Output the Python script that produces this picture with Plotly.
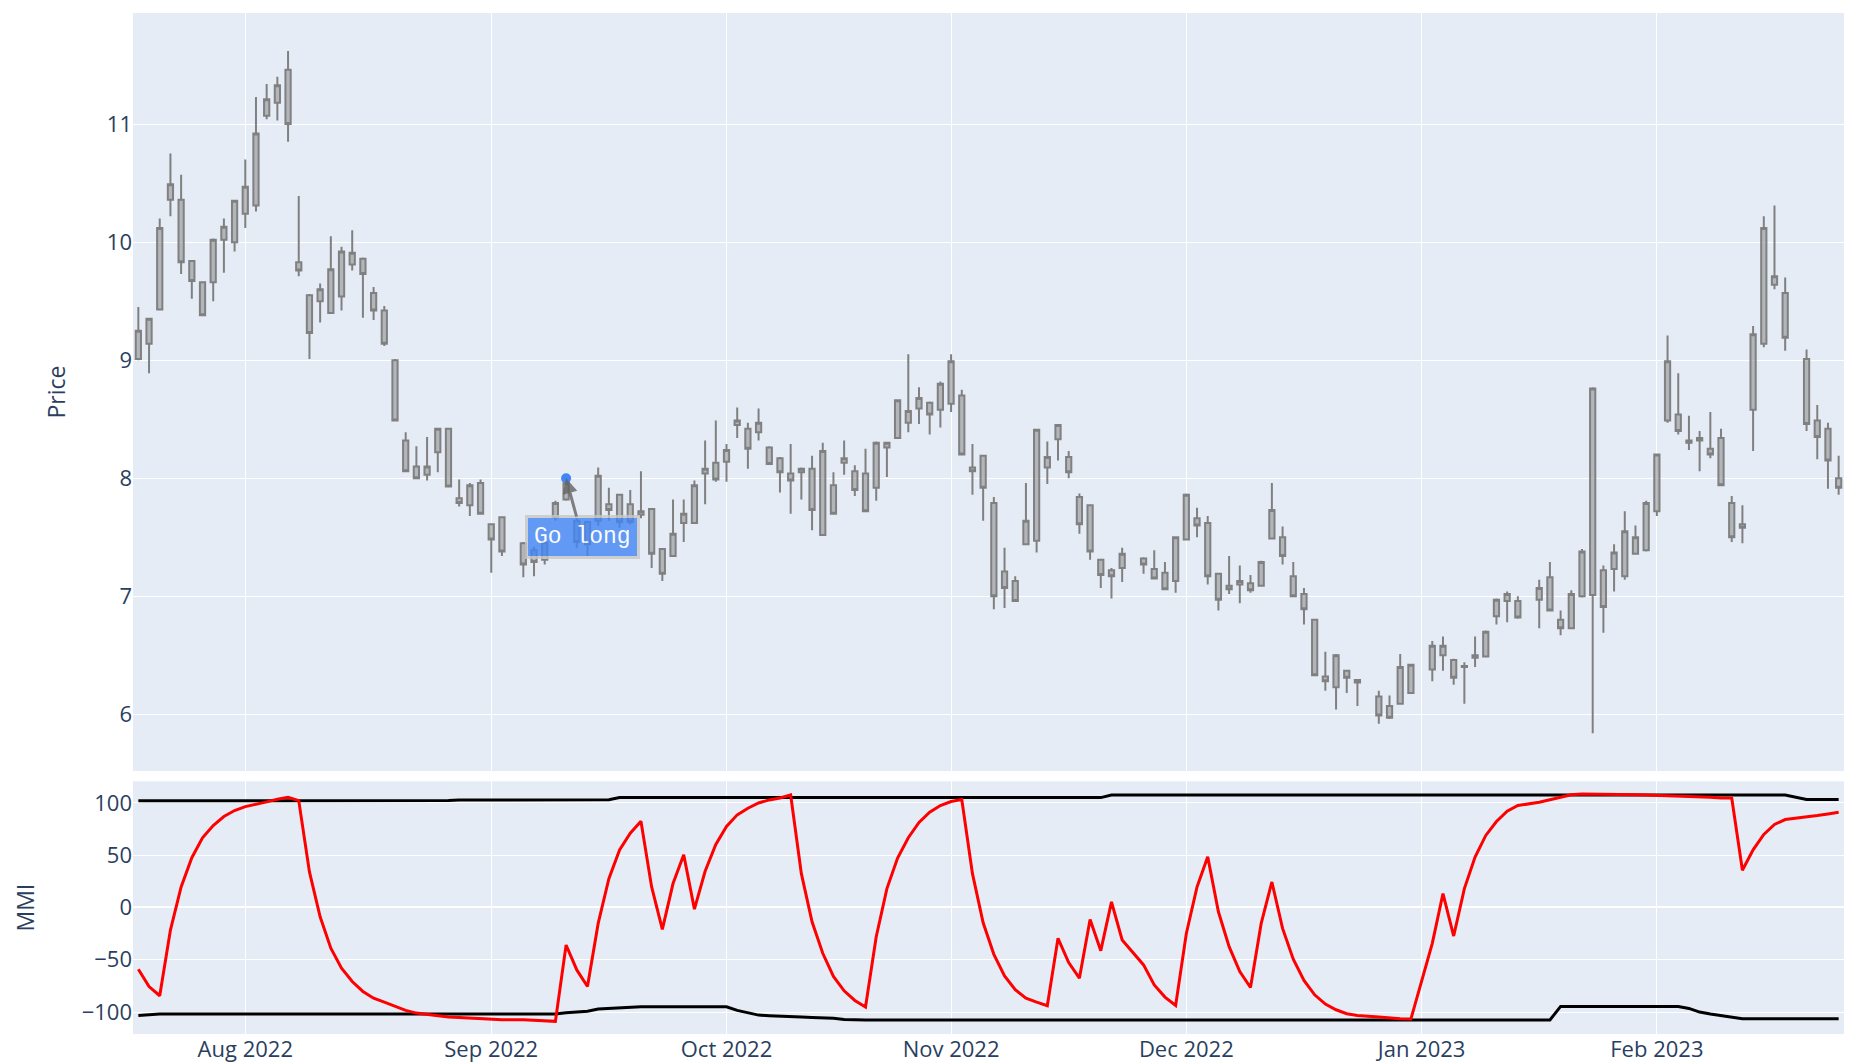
import plotly.graph_objects as go
from plotly.subplots import make_subplots

dates = [
    "2022-07-18", "2022-07-19", "2022-07-20", "2022-07-21", "2022-07-22",
    "2022-07-25", "2022-07-26", "2022-07-27", "2022-07-28", "2022-07-29",
    "2022-08-01", "2022-08-02", "2022-08-03", "2022-08-04", "2022-08-05",
    "2022-08-08", "2022-08-09", "2022-08-10", "2022-08-11", "2022-08-12",
    "2022-08-15", "2022-08-16", "2022-08-17", "2022-08-18", "2022-08-19",
    "2022-08-22", "2022-08-23", "2022-08-24", "2022-08-25", "2022-08-26",
    "2022-08-29", "2022-08-30", "2022-08-31",
    "2022-09-01", "2022-09-02", "2022-09-06", "2022-09-07", "2022-09-08", "2022-09-09",
    "2022-09-12", "2022-09-13", "2022-09-14", "2022-09-15", "2022-09-16",
    "2022-09-19", "2022-09-20", "2022-09-21", "2022-09-22", "2022-09-23",
    "2022-09-26", "2022-09-27", "2022-09-28", "2022-09-29", "2022-09-30",
    "2022-10-03", "2022-10-04", "2022-10-05", "2022-10-06", "2022-10-07",
    "2022-10-10", "2022-10-11", "2022-10-12", "2022-10-13", "2022-10-14",
    "2022-10-17", "2022-10-18", "2022-10-19", "2022-10-20", "2022-10-21",
    "2022-10-24", "2022-10-25", "2022-10-26", "2022-10-27", "2022-10-28",
    "2022-10-31",
    "2022-11-01", "2022-11-02", "2022-11-03", "2022-11-04",
    "2022-11-07", "2022-11-08", "2022-11-09", "2022-11-10", "2022-11-11",
    "2022-11-14", "2022-11-15", "2022-11-16", "2022-11-17", "2022-11-18",
    "2022-11-21", "2022-11-22", "2022-11-23", "2022-11-25",
    "2022-11-28", "2022-11-29", "2022-11-30",
    "2022-12-01", "2022-12-02",
    "2022-12-05", "2022-12-06", "2022-12-07", "2022-12-08", "2022-12-09",
    "2022-12-12", "2022-12-13", "2022-12-14", "2022-12-15", "2022-12-16",
    "2022-12-19", "2022-12-20", "2022-12-21", "2022-12-22", "2022-12-23",
    "2022-12-27", "2022-12-28", "2022-12-29", "2022-12-30",
    "2023-01-03", "2023-01-04", "2023-01-05", "2023-01-06",
    "2023-01-09", "2023-01-10", "2023-01-11", "2023-01-12", "2023-01-13",
    "2023-01-17", "2023-01-18", "2023-01-19", "2023-01-20",
    "2023-01-23", "2023-01-24", "2023-01-25", "2023-01-26", "2023-01-27",
    "2023-01-30", "2023-01-31",
    "2023-02-01", "2023-02-02", "2023-02-03",
    "2023-02-06", "2023-02-07", "2023-02-08", "2023-02-09", "2023-02-10",
    "2023-02-13", "2023-02-14", "2023-02-15", "2023-02-16", "2023-02-17",
    "2023-02-21", "2023-02-22", "2023-02-23", "2023-02-24",
]

open_ = [
    9.01, 9.14, 9.43, 10.36, 10.36, 9.84, 9.66, 9.66, 10.02, 10.00,
    10.24, 10.31, 11.07, 11.18, 11.46, 9.83, 9.55, 9.50, 9.40, 9.54,
    9.81, 9.86, 9.57, 9.42, 9.00, 8.32, 8.10, 8.03, 8.22, 8.42,
    7.83, 7.77, 7.96,
    7.61, 7.67, 7.45, 7.39, 7.31, 7.67, 7.82, 7.64, 7.63, 7.64, 7.78,
    7.86, 7.78, 7.69, 7.74, 7.40, 7.34, 7.62, 7.62, 8.04, 8.13,
    8.14, 8.45, 8.42, 8.39, 8.26, 8.17, 8.04, 8.05, 8.08, 7.52,
    7.94, 8.13, 8.06, 8.04, 7.92, 8.26, 8.34, 8.47, 8.59, 8.64, 8.58,
    8.63, 8.70, 8.09, 8.19, 7.79, 7.21, 7.13, 7.44, 7.47, 8.09,
    8.33, 8.18, 7.84, 7.77, 7.31, 7.22, 7.24, 7.32, 7.23, 7.20, 7.13,
    7.48, 7.66, 7.62, 7.19, 7.09, 7.10, 7.11, 7.09, 7.49, 7.50,
    7.17, 7.02, 6.80, 6.32, 6.23, 6.37, 6.29, 6.15, 6.07, 6.09, 6.18,
    6.38, 6.50, 6.46, 6.40, 6.48, 6.49, 6.83, 6.96, 6.96, 6.97,
    7.16, 6.80, 6.73, 7.00, 7.01, 7.22, 7.23, 7.17, 7.36, 7.39,
    7.72, 8.49, 8.54, 8.32, 8.32, 8.25, 8.34, 7.79, 7.61, 8.58,
    9.14, 9.64, 9.57, 9.01, 8.49, 8.42, 8.00,
]
close = [
    9.25, 9.35, 10.12, 10.49, 9.83, 9.67, 9.38, 10.02, 10.13, 10.35,
    10.47, 10.92, 11.21, 11.33, 11.00, 9.76, 9.23, 9.60, 9.77, 9.92,
    9.91, 9.73, 9.42, 9.14, 8.49, 8.06, 8.00, 8.10, 8.42, 7.93,
    7.79, 7.94, 7.70,
    7.48, 7.38, 7.27, 7.29, 7.46, 7.79, 7.96, 7.46, 7.44, 8.02, 7.73,
    7.63, 7.63, 7.72, 7.36, 7.19, 7.53, 7.70, 7.94, 8.08, 7.99,
    8.24, 8.49, 8.25, 8.47, 8.12, 8.05, 7.98, 8.08, 7.73, 8.23,
    7.70, 8.17, 7.90, 7.72, 8.30, 8.30, 8.66, 8.57, 8.68, 8.54, 8.80,
    8.99, 8.20, 8.06, 7.92, 7.00, 7.07, 6.96, 7.64, 8.41, 8.18,
    8.45, 8.05, 7.61, 7.38, 7.18, 7.17, 7.36, 7.27, 7.15, 7.06, 7.50,
    7.86, 7.60, 7.17, 6.97, 7.06, 7.13, 7.05, 7.29, 7.73, 7.34,
    7.00, 6.89, 6.33, 6.28, 6.50, 6.31, 6.27, 5.99, 5.97, 6.40, 6.42,
    6.58, 6.58, 6.31, 6.41, 6.50, 6.70, 6.97, 7.02, 6.82, 7.07,
    6.88, 6.73, 7.02, 7.38, 8.76, 6.91, 7.37, 7.55, 7.50, 7.79,
    8.20, 8.99, 8.40, 8.30, 8.34, 8.20, 7.94, 7.50, 7.58, 9.22,
    10.12, 9.71, 9.19, 8.46, 8.35, 8.15, 7.92,
]
high = [
    9.45, 9.36, 10.20, 10.75, 10.57, 9.84, 9.66, 10.03, 10.20, 10.36,
    10.70, 11.23, 11.34, 11.40, 11.62, 10.39, 9.56, 9.65, 10.05, 9.96,
    10.10, 9.87, 9.62, 9.46, 9.01, 8.39, 8.27, 8.35, 8.42, 8.42,
    7.99, 7.96, 7.99,
    7.61, 7.67, 7.46, 7.42, 7.47, 7.81, 7.99, 7.66, 7.64, 8.09, 7.92,
    7.86, 7.90, 8.06, 7.74, 7.40, 7.82, 7.82, 7.98, 8.32, 8.49,
    8.29, 8.60, 8.47, 8.59, 8.27, 8.18, 8.29, 8.09, 8.19, 8.30,
    8.05, 8.32, 8.11, 8.25, 8.31, 8.30, 8.66, 9.05, 8.77, 8.65, 8.82,
    9.05, 8.75, 8.29, 8.19, 7.84, 7.41, 7.17, 7.96, 8.42, 8.31,
    8.46, 8.23, 7.87, 7.78, 7.31, 7.24, 7.41, 7.33, 7.39, 7.29, 7.50,
    7.87, 7.75, 7.68, 7.20, 7.34, 7.26, 7.18, 7.30, 7.96, 7.59,
    7.29, 7.07, 6.81, 6.53, 6.51, 6.37, 6.30, 6.20, 6.16, 6.51, 6.42,
    6.62, 6.66, 6.47, 6.44, 6.66, 6.71, 6.98, 7.04, 7.00, 7.14,
    7.29, 6.88, 7.05, 7.40, 8.77, 7.26, 7.44, 7.72, 7.60, 7.81,
    8.21, 9.21, 8.89, 8.53, 8.40, 8.56, 8.42, 7.85, 7.77, 9.29,
    10.22, 10.31, 9.70, 9.09, 8.62, 8.47, 8.19,
]
low = [
    9.00, 8.89, 9.43, 10.22, 9.73, 9.52, 9.38, 9.50, 9.74, 9.92,
    10.12, 10.26, 11.04, 11.03, 10.85, 9.71, 9.01, 9.32, 9.40, 9.42,
    9.76, 9.36, 9.34, 9.12, 8.48, 8.06, 8.00, 7.98, 8.05, 7.93,
    7.76, 7.68, 7.70,
    7.20, 7.34, 7.16, 7.17, 7.27, 7.64, 7.81, 7.41, 7.34, 7.60, 7.64,
    7.58, 7.61, 7.66, 7.24, 7.13, 7.34, 7.46, 7.62, 7.78, 7.97,
    7.97, 8.34, 8.08, 8.32, 8.12, 7.88, 7.70, 7.82, 7.56, 7.52,
    7.70, 8.03, 7.85, 7.72, 7.81, 8.01, 8.34, 8.39, 8.46, 8.37, 8.43,
    8.56, 8.20, 7.86, 7.64, 6.89, 6.90, 6.96, 7.44, 7.37, 7.95,
    8.15, 8.00, 7.53, 7.31, 7.07, 6.98, 7.12, 7.19, 7.15, 7.05, 7.03,
    7.48, 7.50, 7.10, 6.88, 7.02, 6.94, 7.03, 7.09, 7.49, 7.27,
    7.00, 6.76, 6.33, 6.20, 6.04, 6.18, 6.07, 5.92, 5.96, 6.09, 6.18,
    6.28, 6.37, 6.25, 6.09, 6.40, 6.49, 6.76, 6.78, 6.81, 6.73,
    6.88, 6.67, 6.73, 6.99, 5.84, 6.69, 7.04, 7.14, 7.36, 7.38,
    7.68, 8.47, 8.37, 8.24, 8.06, 8.17, 7.94, 7.46, 7.45, 8.23,
    9.11, 9.60, 9.08, 8.40, 8.16, 7.91, 7.86,
]

mmi = [
    -59, -75.6, -84.4, -21.6, 19.7, 47.6, 66.7, 78.4, 87, 92.7,
    96.5, 98.4, 101, 103.5, 105.4, 102.2, 34, -8.9, -39, -58,
    -70.8, -80.3, -86.7, -90.5, -94.6, -98.4, -101, -102.5, -104, -104.8,
    -105.1, -105.7, -106,
    -106.7, -107.3, -107.3, -107.6, -108, -108.9, -35.9, -59.7, -75.6, -15.2, 27.6,
    55, 71, 82.5, 19.7, -21, 22.9, 50.5, -1.6, 34.6, 60.3,
    77.5, 88.6, 94.9, 100, 102.9, 104.8, 107.6, 32.4, -13.7, -43.8,
    -66, -79.7, -88.9, -95.2, -27.9, 18.1, 47.3, 66.7, 81.3, 91.1, 97.5,
    101.3, 103.2, 32.4, -14.6, -44.8, -65.4, -78.7, -86.7, -90.5, -94,
    -29.5, -52.7, -67.6, -11.4, -41.3, 5.4, -31.1, -54.9, -74, -85.7, -93.7,
    -24.8, 19.7, 48.6, -4.1, -37.5, -61.3, -76.5, -15.2, 24.4, -20,
    -49.5, -69.8, -83.5, -92.4, -97.8, -101.6, -103.2, -104.8, -105.7, -106.3, -106.7,
    -34.3, 13.3, -27.3, 18.1, 48.3, 68.9, 82.2, 92.1, 97.5, 100.6,
    102.9, 105.4, 107.9, 108.6, 108.6, 108.6, 108.3, 107.9, 107.9, 107.6,
    107.3, 106.7, 106, 105.7, 105.4, 105.4, 104.8, 104.8, 35.6, 55.2,
    69.8, 79.4, 84.1, 86.3, 87.9, 89.5, 91.1,
]

upper_band = [
    102.0, 102.0, 102.0, 102.0, 102.0, 102.0, 102.0, 102.0, 102.0, 102.0,
    102.0, 102.0, 102.0, 102.0, 102.0, 102.4, 102.4, 102.4, 102.4, 102.4,
    102.4, 102.4, 102.4, 102.4, 102.4, 102.4, 102.4, 102.4, 102.4, 102.4,
    102.8, 102.8, 102.8,
    102.8, 102.8, 102.8, 102.8, 102.8, 102.8, 103.1, 103.1, 103.1, 103.1, 103.1,
    105.1, 105.1, 105.1, 105.1, 105.1, 105.1, 105.1, 105.1, 105.1, 105.1,
    105.1, 105.1, 105.1, 105.1, 105.1, 105.1, 105.1, 105.1, 105.1, 105.1,
    105.1, 105.1, 105.1, 105.1, 105.1, 105.1, 105.1, 105.1, 105.1, 105.1, 105.1,
    105.1, 105.1, 105.1, 105.1, 105.1, 105.1, 105.1, 105.1, 105.1, 105.1,
    105.1, 105.1, 105.1, 105.1, 105.1, 107.5, 107.5, 107.5, 107.5, 107.5, 107.5,
    107.5, 107.5, 107.5, 107.5, 107.5, 107.5, 107.5, 107.5, 107.5, 107.5,
    107.5, 107.5, 107.5, 107.5, 107.5, 107.5, 107.5, 107.5, 107.5, 107.5, 107.5,
    107.5, 107.5, 107.5, 107.5, 107.5, 107.5, 107.5, 107.5, 107.5, 107.5,
    107.5, 107.5, 107.5, 107.5, 107.5, 107.5, 107.5, 107.5, 107.5, 107.5,
    107.5, 107.5, 107.5, 107.5, 107.5, 107.5, 107.5, 107.5, 107.5, 107.5,
    107.5, 107.5, 107.5, 103.2, 103.2, 103.2, 103.2,
]
lower_band = [
    -103.2, -102.4, -101.8, -101.8, -101.8, -101.8, -101.8, -101.8, -101.8, -101.8,
    -101.8, -101.8, -101.8, -101.8, -101.8, -101.8, -101.8, -101.8, -101.8, -101.8,
    -101.8, -101.8, -101.8, -101.8, -101.8, -101.8, -101.8, -101.8, -101.8, -101.8,
    -101.8, -101.8, -101.8,
    -101.8, -101.8, -101.8, -101.8, -101.8, -101.8, -100.6, -99.7, -99.2, -97.1, -96.4,
    -95.8, -95.2, -94.9, -94.9, -94.9, -94.9, -94.9, -94.9, -94.9, -94.9,
    -94.9, -98.4, -100.9, -102.9, -103.5, -104.1, -104.4, -104.8, -105.1, -105.4,
    -106.0, -107.0, -107.6, -107.6, -107.6, -107.6, -107.6, -107.6, -107.6, -107.6, -107.6,
    -107.6, -107.6, -107.6, -107.6, -107.6, -107.6, -107.6, -107.6, -107.6, -107.6,
    -107.6, -107.6, -107.6, -107.6, -107.6, -107.6, -107.6, -107.6, -107.6, -107.6, -107.6,
    -107.6, -107.6, -107.6, -107.6, -107.6, -107.6, -107.6, -107.6, -107.6, -107.6,
    -107.6, -107.6, -107.6, -107.6, -107.6, -107.6, -107.6, -107.6, -107.6, -107.6, -107.6,
    -107.6, -107.6, -107.6, -107.6, -107.6, -107.6, -107.6, -107.6, -107.6, -107.6,
    -107.6, -94.6, -94.6, -94.6, -94.6, -94.6, -94.6, -94.6, -94.6, -94.6,
    -94.6, -94.6, -94.6, -96.5, -100.0, -101.9, -103.5, -105.1, -106.3, -106.3,
    -106.3, -106.3, -106.3, -106.3, -106.3, -106.3, -106.3,
]

signal_date = ["2022-09-12"]
signal_price = [8.0]
signal_text = "Go long"

fig = make_subplots(rows=2, cols=1, shared_xaxes=True,
                    vertical_spacing=0.01, row_heights=[0.75, 0.25])

fig.add_trace(go.Candlestick(
    x=dates, open=open_, high=high, low=low, close=close,
    increasing=dict(line=dict(color="gray")),
    decreasing=dict(line=dict(color="gray")),
    name="Price"), row=1, col=1)

fig.add_trace(go.Scatter(x=signal_date, y=signal_price, mode="markers",
                         marker=dict(color="#4285F4", size=10), name="signal"),
              row=1, col=1)

fig.add_trace(go.Scatter(x=dates, y=upper_band, mode="lines",
                         line=dict(color="black", width=3), name="upper"),
              row=2, col=1)
fig.add_trace(go.Scatter(x=dates, y=lower_band, mode="lines",
                         line=dict(color="black", width=3), name="lower"),
              row=2, col=1)
fig.add_trace(go.Scatter(x=dates, y=mmi, mode="lines",
                         line=dict(color="red", width=3), name="MMI"),
              row=2, col=1)

fig.add_annotation(
    x=signal_date[0], y=signal_price[0], xref="x", yref="y",
    text=signal_text, showarrow=True,
    font=dict(family="Courier New, monospace", size=23, color="#ffffff"),
    align="center", arrowhead=2, arrowsize=1, arrowwidth=3,
    arrowcolor="#636363", ax=16, ay=59,
    bordercolor="#c7c7c7", borderwidth=3, borderpad=6,
    bgcolor="#4285F4", opacity=0.8)

fig.update_xaxes(rangebreaks=[dict(bounds=["sat", "mon"])],
                 tickfont=dict(size=22), automargin=False)
fig.update_layout(xaxis_rangeslider_visible=False)
fig.update_yaxes(tickfont=dict(size=22), title_font=dict(size=23))
fig.update_yaxes(title_text="Price", title_standoff=34, row=1, col=1)
fig.update_yaxes(title_text="MMI", title_standoff=40, row=2, col=1)

fig.update_layout(
    width=1857, height=1063,
    margin=dict(l=133, r=13, t=13, b=29),
    showlegend=False,
    font=dict(size=19),
)

fig.write_html("out.html",
               config={"displayModeBar": False},
               post_script="document.body.style.margin='0px';"
                           "document.body.style.overflow='hidden';")
